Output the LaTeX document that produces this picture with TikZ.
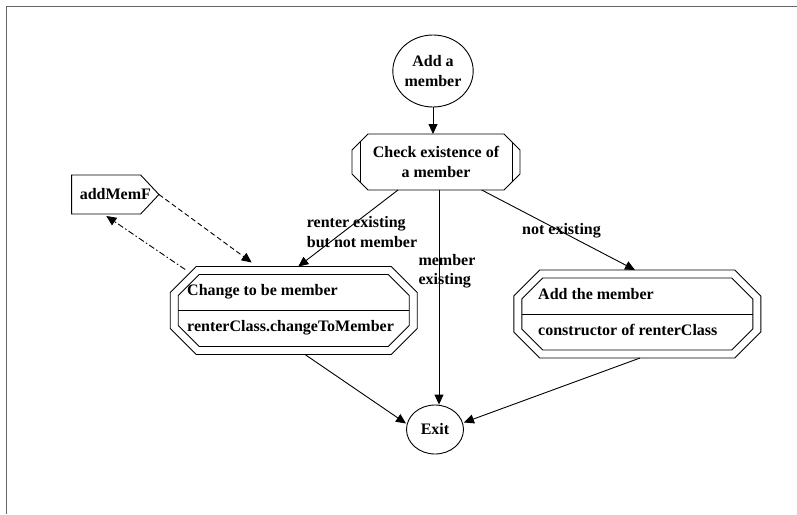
\documentclass[tikz,border=0pt]{standalone}
\usepackage{fontspec}
\setmainfont{Liberation Serif}
\usetikzlibrary{arrows.meta,shapes.geometric}

% Octagon outline round a node: #1 node, #2 inset, #3 corner cut
\newcommand\drawOcta[3]{%
  \draw[ln] ([shift={(#2+#3,#2)}]#1.north west)
    -- ([shift={(-#2-#3,#2)}]#1.north east)
    -- ([shift={(-#2,#2+#3)}]#1.north east)
    -- ([shift={(-#2,-#2-#3)}]#1.south east)
    -- ([shift={(-#2-#3,-#2)}]#1.south east)
    -- ([shift={(#2+#3,-#2)}]#1.south west)
    -- ([shift={(#2,-#2-#3)}]#1.south west)
    -- ([shift={(#2,#2+#3)}]#1.north west) -- cycle;}

\begin{document}
\begin{tikzpicture}[x=1pt,y=-1pt,
  every node/.style={font=\bfseries\fontsize{16}{19.5}\selectfont, inner sep=0pt},
  ln/.style={line width=0.9pt, black},
  arr/.style={ln, -{Triangle[length=10pt,width=9pt]}},
  flowdash/.style={arr, dash pattern=on 5pt off 3pt},
  flowdashdot/.style={arr, dash pattern=on 6pt off 2.5pt on 1.5pt off 2.5pt},
  ell/.style={ellipse, draw, ln, align=center},
  boxn/.style={rectangle, outer sep=0pt, align=center},
  txt/.style={text height=11pt, text depth=3.5pt},
  lbl/.style={align=left, anchor=west}]

\useasboundingbox (0,0) rectangle (797,514);
% frame
\draw[black!60, line width=1.2pt] (6.7,514) -- (6.7,6.7) -- (797,6.7);

% start and end states
\node[ell, minimum width=80, minimum height=72] (start) at (433,71) {Add a\\member};
\node[ell, minimum width=57, minimum height=49] (exit) at (435,429.5) {Exit};

% decision state
\node[boxn, minimum width=168, minimum height=56] (check) at (436,162)
  {Check existence of\\a member};
\drawOcta{check}{0}{16}
\draw[ln] ([shift={(8,8)}]check.north west) -- ([shift={(8,-8)}]check.south west);
\draw[ln] ([shift={(-8,8)}]check.north east) -- ([shift={(-8,-8)}]check.south east);

% action states
\node[boxn, minimum width=247, minimum height=88] (chg) at (293.7,310.5) {};
\drawOcta{chg}{0}{26}
\drawOcta{chg}{8}{21}
\draw[ln] ([xshift=8pt]chg.west) -- ([xshift=-8pt]chg.east);
\node[txt, anchor=west] (chgname) at (187,292) {Change to be member};
\node[txt, anchor=west] (chgop) at (187,328) {renterClass.changeToMember};

\node[boxn, minimum width=247, minimum height=88] (add) at (637.3,314) {};
\drawOcta{add}{0}{26}
\drawOcta{add}{8}{21}
\draw[ln] ([xshift=8pt]add.west) -- ([xshift=-8pt]add.east);
\node[txt, anchor=west] (addname) at (538,296) {Add the member};
\node[txt, anchor=west] (addop) at (538,332) {constructor of renterClass};

% form
\node[boxn, minimum width=87.3, minimum height=39] (memf) at (115.3,194.5) {addMemF};
\draw[ln] (memf.north west) -- ([xshift=-18.3pt]memf.north east) -- (memf.east)
  -- ([xshift=-18.3pt]memf.south east) -- (memf.south west) -- cycle;

% transitions
\draw[arr] (start.south) -- (start.south |- check.north);
\draw[arr] ([shift={(-38,0)}]check.south) -- ([shift={(4.6,0)}]chg.north);
\draw[arr] ([shift={(3,0)}]check.south) -- ([shift={(3,0)}]check.south |- exit.north);
\draw[arr] ([shift={(45.7,0)}]check.south) -- ([shift={(-2.3,0)}]add.north);
\draw[arr] ([shift={(11.3,0)}]chg.south) -- ([shift={(0,-6)}]exit.west);
\draw[arr] ([shift={(2.7,0)}]add.south) -- ([shift={(0,-7)}]exit.east);
\draw[flowdash] (memf.east) -- ([shift={(-42,-4)}]chg.north);
\draw[flowdashdot] ([shift={(15,3)}]chg.north west) -- ([shift={(-9,2)}]memf.south);

% transition labels
\node[lbl] (lrenter) at (306.7,232) {renter existing\\but not member};
\node[lbl] (lmember) at (418.3,271.2) {member\\existing};
\node[lbl] (lnot) at (522,231) {not existing};
\end{tikzpicture}
\end{document}
